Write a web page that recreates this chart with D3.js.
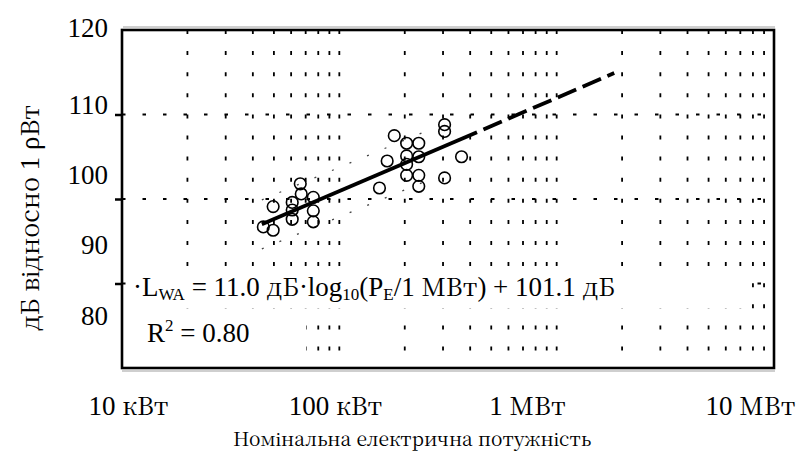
<!DOCTYPE html>
<html>
<head>
<meta charset="utf-8">
<script src="https://cdn.jsdelivr.net/npm/d3@7/dist/d3.min.js"></script>
<style>
  html, body { margin: 0; padding: 0; background: #fff; }
  svg { display: block; }
</style>
</head>
<body>
<div id="chart"></div>
<script>
// ---- data ----
const powerKW = [44.7, 49.6, 49.6, 60.7, 60.7, 60.7, 66.1, 66.8, 75.9, 75.9, 75.9,
                 153, 166, 179, 204, 204, 204, 204, 232, 232, 232, 232, 305, 305, 305, 365];
const levelDB = [86.7, 86.3, 89.1, 89.6, 88.7, 87.6, 91.8, 90.6, 90.2, 88.6, 87.3,
                 91.3, 94.5, 97.5, 96.6, 95.1, 94.1, 92.8, 96.6, 95.0, 92.8, 91.5, 98.8, 98.0, 92.5, 95.0];
// fitted line as drawn (solid over data range, dashed extrapolation)
const fitSolidKW = [44, 430];
const fitSolidDB = [87.0, 97.9];
const fitDashKW = [430, 1840];
const fitDashDB = [97.9, 104.9];
// faint dotted band around the fit
const bandKW = [44, 249];
const bandUpperDB = [89.9, 98.0];
const bandLowerDB = [84.1, 92.1];
// axes
const xDomainKW = [10, 10000];
const yDomain = [70, 110];
const yGridValues = [80, 90, 100];
const yTickLabels = [80, 90, 100, 110, 120];
const xTickValuesKW = [10, 100, 1000, 10000];
const xTickLabels = ["10 кВт", "100 кВт", "1 МВт", "10 МВт"];
const yTitle = "дБ відносно 1 ρВт";
const xTitle = "Номінальна електрична потужність";
const eqParts = [["·L"], ["WA", "sub"], [" = 11.0 дБ·log"], ["10", "sub"], ["(P"], ["E", "sub"], ["/1 МВт) + 101.1 дБ"]];
const r2Parts = [["R"], ["2", "sup"], [" = 0.80"]];

const LAT = '"Liberation Serif", serif';
const CYR = '"Noto Serif CJK SC", "Liberation Serif", serif';
const W = 806, H = 453;
const L = 122, R = 774, T = 30, B = 368;

// text helper: Latin runs in Liberation Serif, Cyrillic runs in a serif that has Cyrillic
function appendRuns(textSel, parts) {
  let shift = 0; // baseline offset in parent em
  parts.forEach(([str, kind]) => {
    const target = kind === "sub" ? 0.16 : kind === "sup" ? -0.4 : 0;
    let first = true;
    str.split(/([\u0400-\u04FF]+)/).filter(s => s.length).forEach(s => {
      const cyr = /[\u0400-\u04FF]/.test(s);
      const f = kind ? 0.63 : (cyr ? 0.93 : 1);
      const ts = textSel.append("tspan").text(s).style("font-family", cyr ? CYR : LAT);
      if (f !== 1) ts.style("font-size", f + "em");
      if (first) {
        const d = target - shift;
        if (d !== 0) ts.attr("dy", (d / f) + "em");
        shift = target;
        first = false;
      }
    });
  });
}
function fitWidth(textSel, size, target) {
  textSel.style("font-size", size + "px");
  const w = textSel.node().getBBox().width;
  textSel.style("font-size", (size * target / w) + "px");
}

const svg = d3.select("#chart").append("svg").attr("width", W).attr("height", H);

const x = d3.scaleLog().domain(xDomainKW).range([L, R]);
const y = d3.scaleLinear().domain(yDomain).range([B, T]);

// shadow lines outside frame
svg.append("line").attr("x1", L + 1).attr("x2", R + 1).attr("y1", T - 3).attr("y2", T - 3)
  .attr("stroke", "#cfcfcf").attr("stroke-width", 2);
svg.append("line").attr("x1", L).attr("x2", R + 1).attr("y1", B + 3).attr("y2", B + 3)
  .attr("stroke", "#cfcfcf").attr("stroke-width", 2);

// vertical dotted gridlines (log minor + major)
const vTicks = x.ticks().filter(v => v > xDomainKW[0] * 1.001);
svg.append("g").selectAll("line").data(vTicks).join("line")
  .attr("x1", d => x(d)).attr("x2", d => x(d))
  .attr("y1", T).attr("y2", B)
  .attr("stroke", "#000").attr("stroke-width", 1.8)
  .attr("stroke-dasharray", "4,17.1");

// horizontal dotted gridlines
svg.append("g").selectAll("line").data(yGridValues).join("line")
  .attr("x1", L).attr("x2", R)
  .attr("y1", d => y(d)).attr("y2", d => y(d))
  .attr("stroke", "#000").attr("stroke-width", 2)
  .attr("stroke-dasharray", "3.5,17");

// band (faint dotted)
const line = d3.line().x(d => x(d[0])).y(d => y(d[1]));
svg.append("path").datum(d3.zip(bandKW, bandUpperDB)).attr("d", line)
  .attr("fill", "none").attr("stroke", "#444").attr("stroke-width", 1.3)
  .attr("stroke-dasharray", "2,17");
svg.append("path").datum(d3.zip(bandKW, bandLowerDB)).attr("d", line)
  .attr("fill", "none").attr("stroke", "#444").attr("stroke-width", 1.3)
  .attr("stroke-dasharray", "2,17");

// scatter
svg.append("g").selectAll("circle").data(d3.zip(powerKW, levelDB)).join("circle")
  .attr("cx", d => x(d[0])).attr("cy", d => y(d[1])).attr("r", 5.8)
  .attr("fill", "none").attr("stroke", "#000").attr("stroke-width", 1.6);

// fit lines
svg.append("path").datum(d3.zip(fitSolidKW, fitSolidDB)).attr("d", line)
  .attr("fill", "none").attr("stroke", "#000").attr("stroke-width", 3.8);
svg.append("path").datum(d3.zip(fitDashKW, fitDashDB)).attr("d", line)
  .attr("fill", "none").attr("stroke", "#000").attr("stroke-width", 3.8)
  .attr("stroke-dasharray", "20,7").attr("stroke-dashoffset", -7);

// left axis ticks (no labels)
const yAxis = svg.append("g").attr("transform", `translate(${L},0)`)
  .call(d3.axisLeft(y).tickValues(yGridValues).tickSize(7).tickFormat(""));
yAxis.select(".domain").remove();
yAxis.selectAll(".tick line").attr("stroke", "#000").attr("stroke-width", 2.5);

// equation boxes (white background)
svg.append("rect").attr("x", L + 8).attr("y", 272).attr("width", 612).attr("height", 36).attr("fill", "#fff");
svg.append("rect").attr("x", L + 8).attr("y", 310).attr("width", 176).attr("height", 42).attr("fill", "#fff");

const eq = svg.append("text").attr("x", 133).attr("y", 296).attr("fill", "#000");
appendRuns(eq, eqParts);
fitWidth(eq, 27, 482);

const r2 = svg.append("text").attr("x", 147).attr("y", 342).attr("fill", "#000");
appendRuns(r2, r2Parts);
r2.style("font-size", "27px");

// frame
svg.append("rect").attr("x", L).attr("y", T).attr("width", R - L).attr("height", B - T)
  .attr("fill", "none").attr("stroke", "#000").attr("stroke-width", 2.6);

// y tick labels (as printed, with their own placement scale)
const yLab = d3.scaleLinear().domain([80, 90, 100, 110, 120]).range([316, 245, 175, 105, 28]);
const yLabAxis = svg.append("g").attr("transform", "translate(108,0)")
  .call(d3.axisLeft(yLab).tickValues(yTickLabels).tickSize(0).tickPadding(0));
yLabAxis.select(".domain").remove();
yLabAxis.selectAll("text").style("font-size", "27px").style("font-family", LAT).attr("fill", "#000");

// x tick labels (as printed)
const xLab = d3.scaleLog().domain([10, 100, 1000, 10000]).range([128, 335, 527, 750]);
const xLabAxis = svg.append("g").attr("transform", "translate(0,396)")
  .call(d3.axisBottom(xLab).tickValues(xTickValuesKW).tickSize(0).tickPadding(0)
    .tickFormat((d, i) => xTickLabels[i]));
xLabAxis.select(".domain").remove();
xLabAxis.selectAll("text").each(function (d, i) {
  const t = d3.select(this).text(null).attr("fill", "#000").style("font-size", "27px");
  appendRuns(t, [[xTickLabels[i]]]);
});

// axis titles
const xt = svg.append("text").attr("x", 412).attr("y", 446).attr("text-anchor", "middle").attr("fill", "#000");
appendRuns(xt, [[xTitle]]);
fitWidth(xt, 24, 358);
const yt = svg.append("text").attr("transform", "translate(39,218) rotate(-90)").attr("text-anchor", "middle").attr("fill", "#000");
appendRuns(yt, [[yTitle]]);
fitWidth(yt, 24, 226);
</script>
</body>
</html>
